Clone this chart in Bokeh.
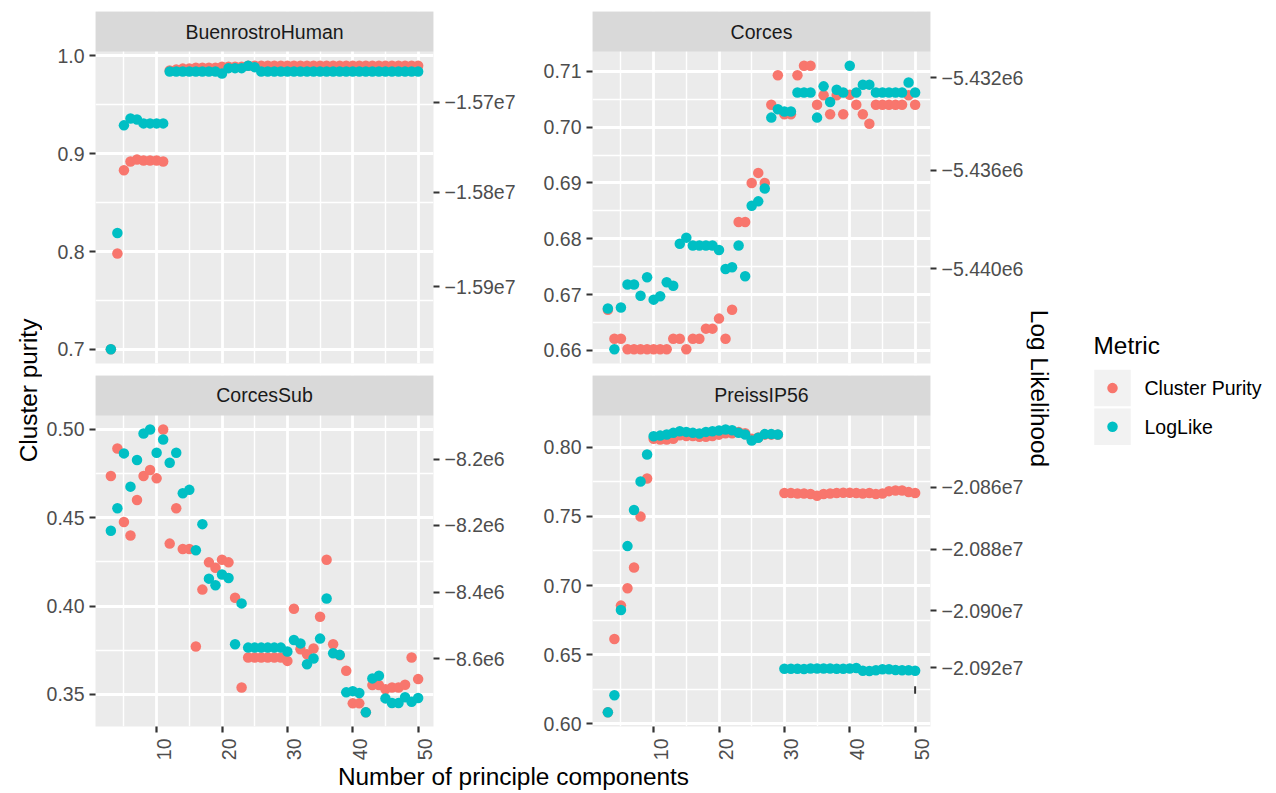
import math
from bokeh.plotting import figure
from bokeh.layouts import row, column
from bokeh.models import (Range1d, FixedTicker, LinearAxis, BoxAnnotation, Label,
                          NumeralTickFormatter, CustomJSTickFormatter)
from bokeh.embed import file_html
from bokeh.resources import INLINE

# ---------------- data ----------------
n_components = list(range(3, 51))

buenrostro_purity = [0.700, 0.798, 0.883, 0.892, 0.894, 0.893, 0.893, 0.893, 0.892,
                     0.985, 0.986, 0.987, 0.987, 0.988, 0.988, 0.988, 0.988, 0.989, 0.989,
                     0.989, 0.989, 0.990, 0.990] + [0.990] * 25
buenrostro_loglike = [0.700, 0.819, 0.929, 0.936, 0.935, 0.931, 0.931, 0.931, 0.931] + \
                     [0.984] * 8 + [0.982, 0.9875, 0.9875, 0.9875, 0.990, 0.9885] + [0.984] * 25

corces_purity = [0.6673, 0.6621, 0.6621] + [0.6602] * 7 + \
                [0.6621, 0.6621, 0.6602, 0.6621, 0.6621, 0.6639, 0.6639, 0.6657, 0.6621, 0.6673,
                 0.6830, 0.6830, 0.6900, 0.6918, 0.6900, 0.7040, 0.7093, 0.7023, 0.7023, 0.7093,
                 0.7110, 0.7110, 0.7040, 0.7057, 0.7023, 0.7057, 0.7023, 0.7058, 0.7040, 0.7023,
                 0.7006] + [0.7040] * 5 + [0.7057, 0.7040]
corces_loglike = [0.6675, 0.6602, 0.6677, 0.6718, 0.6718, 0.6698, 0.6731, 0.6691, 0.6697, 0.6722,
                  0.6716, 0.6791, 0.6802, 0.6788, 0.6788, 0.6788, 0.6788, 0.6780, 0.6746, 0.6749,
                  0.6788, 0.6733, 0.6859, 0.6867, 0.6890, 0.7017, 0.7032, 0.7028, 0.7028, 0.7062,
                  0.7062, 0.7062, 0.7017, 0.7073, 0.7045, 0.7067, 0.7062, 0.7110, 0.7062, 0.7076,
                  0.7076] + [0.7062] * 5 + [0.7080, 0.7062]

corcessub_purity = [0.4735, 0.4891, 0.4475, 0.4399, 0.4600, 0.4735, 0.4769, 0.4722, 0.4998, 0.4353,
                    0.4553, 0.4323, 0.4323, 0.3771, 0.4093, 0.4247, 0.4216, 0.4262, 0.4247, 0.4047,
                    0.3540] + [0.3709] * 6 + \
                   [0.3690, 0.3985, 0.3756, 0.3728, 0.3760, 0.3940, 0.4262, 0.3784, 0.3722, 0.3634,
                    0.3450, 0.3450, 0.3400, 0.3553, 0.3553, 0.3530, 0.3540, 0.3540, 0.3555, 0.3709,
                    0.3587]
corcessub_loglike = [0.4426, 0.4553, 0.4863, 0.4675, 0.4826, 0.4976, 0.4998, 0.4867, 0.4942, 0.4810,
                     0.4867, 0.4638, 0.4657, 0.4315, 0.4463, 0.4155, 0.4118, 0.4178, 0.4159, 0.3784,
                     0.4015] + [0.3765] * 6 + \
                    [0.3743, 0.3808, 0.3789, 0.3671, 0.3703, 0.3816, 0.4043, 0.3733, 0.3724, 0.3512,
                     0.3519, 0.3508, 0.3399, 0.3591, 0.3606, 0.3478, 0.3452, 0.3452, 0.3484, 0.3459,
                     0.3480]

preiss_purity = [0.6085, 0.6614, 0.6855, 0.6980, 0.7130, 0.7498, 0.7773, 0.8060, 0.8055, 0.8055,
                 0.8060, 0.8085, 0.8080, 0.8080, 0.8075, 0.8075, 0.8080, 0.8090, 0.8100, 0.8100,
                 0.8110, 0.8100, 0.8060, 0.8070, 0.8090, 0.8090, 0.8090,
                 0.7668, 0.7668, 0.7665, 0.7665, 0.7661, 0.7649, 0.7661, 0.7665, 0.7668, 0.7670,
                 0.7670, 0.7668, 0.7665, 0.7668, 0.7661, 0.7665, 0.7682, 0.7687, 0.7687, 0.7675,
                 0.7668]
preiss_loglike = [0.6084, 0.6208, 0.6824, 0.7285, 0.7546, 0.7751, 0.7947, 0.8079, 0.8083, 0.8091,
                  0.8103, 0.8115, 0.8110, 0.8103, 0.8098, 0.8110, 0.8115, 0.8120, 0.8127, 0.8122,
                  0.8103, 0.8091, 0.8048, 0.8067, 0.8094, 0.8094, 0.8091,
                  0.6399, 0.6399, 0.6399, 0.6397, 0.6401, 0.6401, 0.6401, 0.6401, 0.6399, 0.6399,
                  0.6401, 0.6404, 0.6385, 0.6383, 0.6388, 0.6395, 0.6395, 0.6390, 0.6388, 0.6388,
                  0.6385]
# small dark vertical mark visible in the PreissIP56 panel
preiss_mark_n = [50]
preiss_mark_lo = [0.6219]
preiss_mark_hi = [0.6272]

x_ticks = [10, 20, 30, 40, 50]
x_minor = [5, 15, 25, 35, 45]

# left-axis ticks per facet
buen_ticks = [0.7, 0.8, 0.9, 1.0]
buen_minor = [0.75, 0.85, 0.95]
corces_ticks = [0.66, 0.67, 0.68, 0.69, 0.70, 0.71]
corces_minor = [0.665, 0.675, 0.685, 0.695, 0.705]
sub_ticks = [0.35, 0.40, 0.45, 0.50]
sub_minor = [0.375, 0.425, 0.475]
preiss_ticks = [0.60, 0.65, 0.70, 0.75, 0.80]
preiss_minor = [0.625, 0.675, 0.725, 0.775]

# secondary (log likelihood) axis breaks, on the purity scale, with their labels
buen_ll_pos = [0.7642, 0.8606, 0.9524]
buen_ll_lab = ["\u22121.59e7", "\u22121.58e7", "\u22121.57e7"]
corces_ll_pos = [0.67462, 0.69223, 0.70883]
corces_ll_lab = ["\u22125.440e6", "\u22125.436e6", "\u22125.432e6"]
sub_ll_pos = [0.37024, 0.40784, 0.44578, 0.48299]
sub_ll_lab = ["\u22128.6e6", "\u22128.4e6", "\u22128.2e6", "\u22128.2e6"]
preiss_ll_pos = [0.64048, 0.68196, 0.72639, 0.77083]
preiss_ll_lab = ["\u22122.092e7", "\u22122.090e7", "\u22122.088e7", "\u22122.086e7"]

legend_labels = ["Cluster Purity", "LogLike"]

# ---------------- style ----------------
FONT = "Liberation Sans"
RED = "#F8766D"
CYAN = "#00BFC4"
TICK_FS = "19.5px"
TITLE_FS = "24.4px"
PANEL_H = 312   # data area height (px)
STRIP_H = 40    # facet strip height (px)


def style_y_axis(ax):
    ax.axis_line_color = None
    ax.major_tick_line_color = "#333333"
    ax.major_tick_line_width = 2.2
    ax.major_tick_in = 0
    ax.major_tick_out = 6
    ax.minor_tick_line_color = None
    ax.minor_tick_in = 0
    ax.minor_tick_out = 0
    ax.major_label_standoff = 5
    ax.major_label_text_font = FONT
    ax.major_label_text_font_size = TICK_FS
    ax.major_label_text_color = "#4D4D4D"


def panel(name, purity, loglike, ticks, minor, fmt, ll_pos, ll_lab,
          width, bl, br, height, bt, bb, bottom):
    vals = purity + loglike
    lo_d, hi_d = min(vals), max(vals)
    pad = 0.05 * (hi_d - lo_d)
    lo, hi = lo_d - pad, hi_d + pad
    top = hi + (hi - lo) * STRIP_H / PANEL_H
    xpad = 0.05 * (max(n_components) - min(n_components))
    x0, x1 = min(n_components) - xpad, max(n_components) + xpad

    p = figure(width=width, height=height,
               x_range=Range1d(x0, x1), y_range=Range1d(lo, top),
               x_axis_location="below" if bottom else None,
               y_axis_location="left",
               min_border_left=bl, min_border_right=br,
               min_border_top=bt, min_border_bottom=bb,
               background_fill_color="#EBEBEB", border_fill_color="white",
               outline_line_color=None,
               output_backend="svg", toolbar_location=None)

    # grids
    p.xgrid.ticker = FixedTicker(ticks=x_ticks, minor_ticks=x_minor)
    p.ygrid.ticker = FixedTicker(ticks=ticks, minor_ticks=minor)
    for g in (p.xgrid, p.ygrid):
        g.grid_line_color = "white"
        g.grid_line_width = 2.8
        g.minor_grid_line_color = "white"
        g.minor_grid_line_width = 1.4

    # left axis
    yax = p.yaxis[0]
    yax.ticker = FixedTicker(ticks=ticks)
    yax.formatter = NumeralTickFormatter(format=fmt)
    style_y_axis(yax)

    # right axis (log likelihood)
    rax = LinearAxis(ticker=FixedTicker(ticks=ll_pos),
                     formatter=CustomJSTickFormatter(args=dict(labels=ll_lab),
                                                     code="return labels[index];"))
    style_y_axis(rax)
    p.add_layout(rax, "right")

    if bottom:
        xax = p.xaxis[0]
        xax.ticker = FixedTicker(ticks=x_ticks)
        xax.axis_line_color = None
        xax.major_tick_line_color = "#333333"
        xax.major_tick_line_width = 2.2
        xax.major_tick_in = 0
        xax.major_tick_out = 6
        xax.minor_tick_line_color = None
        xax.minor_tick_in = 0
        xax.minor_tick_out = 0
        xax.major_label_standoff = 0
        xax.major_label_text_color = None
        # rotated labels sit right of the tick (ggplot angle=90, vjust=1)
        d = 7.0 * (x1 - x0) / (width - bl - br)
        p.extra_x_ranges = {"labels": Range1d(x0 - d, x1 - d)}
        lax = LinearAxis(x_range_name="labels", ticker=FixedTicker(ticks=x_ticks))
        lax.axis_line_color = None
        lax.major_tick_line_color = None
        lax.major_tick_in = 0
        lax.major_tick_out = 0
        lax.minor_tick_line_color = None
        lax.minor_tick_in = 0
        lax.minor_tick_out = 0
        lax.major_label_orientation = math.pi / 2
        lax.major_label_standoff = 6
        lax.major_label_text_font = FONT
        lax.major_label_text_font_size = TICK_FS
        lax.major_label_text_color = "#4D4D4D"
        p.add_layout(lax, "below")

    # points
    p.scatter(n_components, purity, size=10.5, fill_color=RED, line_color=None)
    p.scatter(n_components, loglike, size=10.5, fill_color=CYAN, line_color=None)

    # facet strip
    p.add_layout(BoxAnnotation(bottom=hi, fill_color="#D9D9D9", fill_alpha=1.0,
                               line_color=None))
    p.add_layout(Label(x=(x0 + x1) / 2, y=(hi + top) / 2, text=name,
                       text_align="center", text_baseline="middle",
                       text_font=FONT, text_font_size=TICK_FS, text_color="#1A1A1A"))
    return p


LEFT_W = 42
p1 = panel("BuenrostroHuman", buenrostro_purity, buenrostro_loglike, buen_ticks, buen_minor,
           "0.0", buen_ll_pos, buen_ll_lab, 488, 53, 97, 369, 11, 6, False)
p2 = panel("Corces", corces_purity, corces_loglike, corces_ticks, corces_minor,
           "0.00", corces_ll_pos, corces_ll_lab, 496, 62, 95, 369, 11, 6, False)
p3 = panel("CorcesSub", corcessub_purity, corcessub_loglike, sub_ticks, sub_minor,
           "0.00", sub_ll_pos, sub_ll_lab, 488, 53, 97, 394, 6, 36, True)
p4 = panel("PreissIP56", preiss_purity, preiss_loglike, preiss_ticks, preiss_minor,
           "0.00", preiss_ll_pos, preiss_ll_lab, 496, 62, 95, 394, 6, 36, True)
p4.segment(x0=preiss_mark_n, y0=preiss_mark_lo, x1=preiss_mark_n, y1=preiss_mark_hi,
           line_color="#333333", line_width=2)


def deco(width, height, x_start, y_top):
    f = figure(width=width, height=height,
               x_range=Range1d(x_start, x_start + width),
               y_range=Range1d(y_top + height, y_top),
               x_axis_location=None, y_axis_location=None,
               min_border_left=0, min_border_right=0, min_border_top=0, min_border_bottom=0,
               outline_line_color=None, background_fill_color="white",
               border_fill_color="white", output_backend="svg", toolbar_location=None)
    f.grid.visible = False
    return f


fig_left = deco(LEFT_W, 793, 0, 0)
fig_left.add_layout(Label(x=28, y=390, text="Cluster purity", angle=math.pi / 2,
                          text_align="center", text_baseline="middle",
                          text_font=FONT, text_font_size=TITLE_FS, text_color="black"))

fig_bottom = deco(984, 30, LEFT_W, 763)
fig_bottom.add_layout(Label(x=513, y=776, text="Number of principle components",
                            text_align="center", text_baseline="middle",
                            text_font=FONT, text_font_size=TITLE_FS, text_color="black"))

fig_right = deco(250, 793, 1026, 0)
fig_right.add_layout(Label(x=1039, y=388, text="Log Likelihood", angle=-math.pi / 2,
                           text_align="center", text_baseline="middle",
                           text_font=FONT, text_font_size=TITLE_FS, text_color="black"))
fig_right.add_layout(Label(x=1093, y=345, text="Metric", text_align="left",
                           text_baseline="middle", text_font=FONT,
                           text_font_size=TITLE_FS, text_color="black"))
key_y = [387.6, 426.3]
fig_right.rect(x=[1112, 1112], y=key_y, width=36.5, height=36.5,
               fill_color="#F2F2F2", line_color=None)
fig_right.scatter(x=[1112, 1112], y=key_y, size=10.5, fill_color=[RED, CYAN], line_color=None)
for lab, yy in zip(legend_labels, key_y):
    fig_right.add_layout(Label(x=1144, y=yy, text=lab, text_align="left",
                               text_baseline="middle", text_font=FONT,
                               text_font_size=TICK_FS, text_color="black"))

layout = row(fig_left,
             column(row(p1, p2), row(p3, p4), fig_bottom),
             fig_right)

open("out.html", "w").write(file_html(layout, INLINE))
